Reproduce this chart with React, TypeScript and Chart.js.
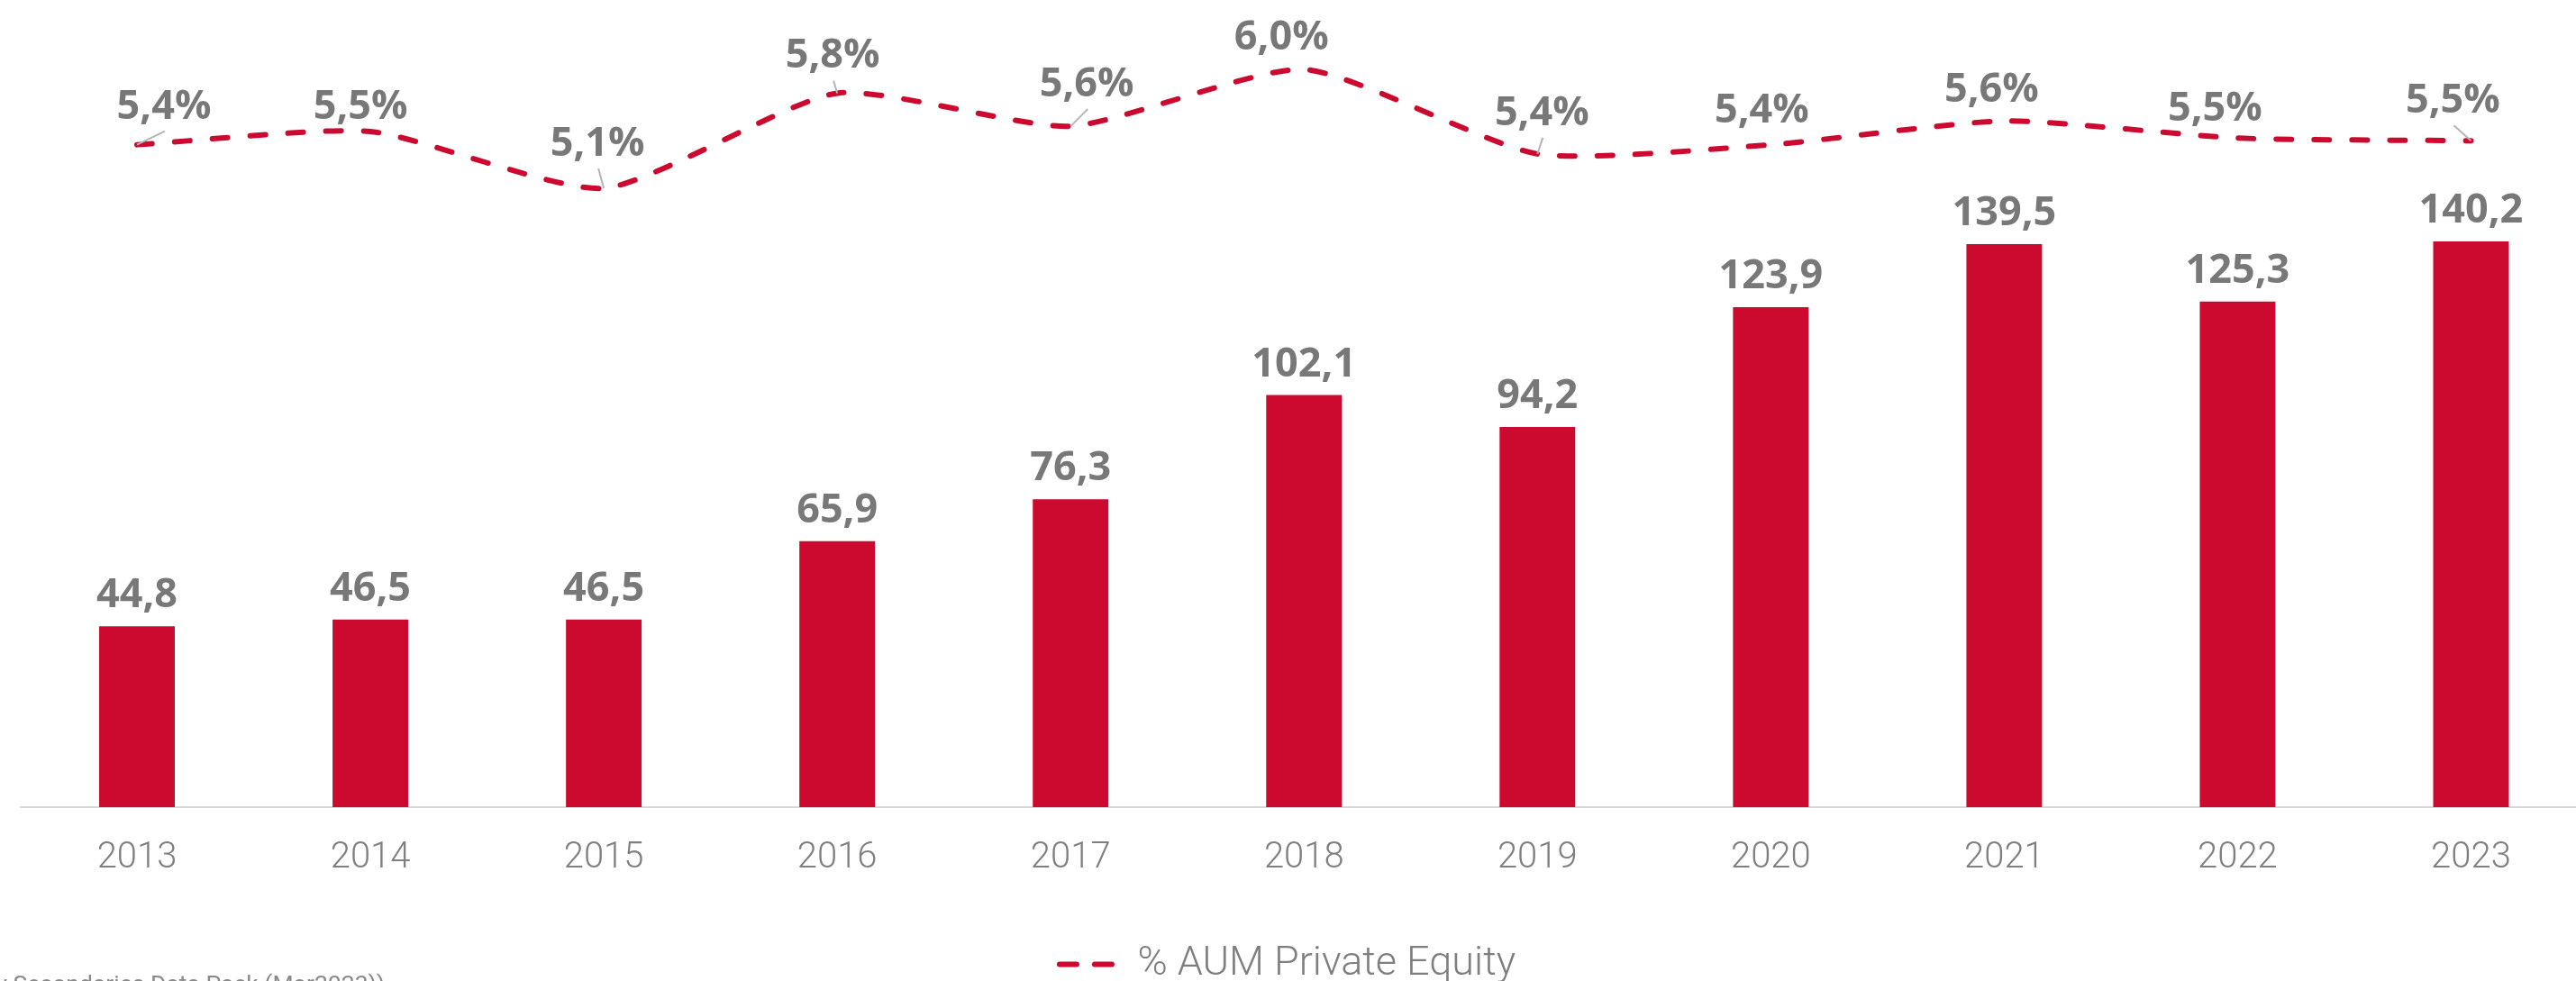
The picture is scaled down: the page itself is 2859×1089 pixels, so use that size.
import React, { useEffect, useRef } from 'react';
import { Chart, registerables } from 'chart.js';

Chart.register(...registerables);

// ---- data ----
const years = ['2013', '2014', '2015', '2016', '2017', '2018', '2019', '2020', '2021', '2022', '2023'];
const aumValues = [44.8, 46.5, 46.5, 65.9, 76.3, 102.1, 94.2, 123.9, 139.5, 125.3, 140.2];
const pctValues = [5.43, 5.53, 5.1, 5.82, 5.57, 6.0, 5.36, 5.43, 5.61, 5.48, 5.46];
const legendLabel = '% AUM Private Equity';
const sourceNote = 'y Secondaries Data Pack (Mar2023))';

// ---- label placement (styling, relative to points) ----
const pctLabelOffsets = [
  [30, -29], [-11, -14], [-7, -36], [-5, -28], [18, -33], [-25, -22],
  [5, -32], [-10, -25], [-14, -21], [-25, -19], [-20, -31],
];
const pctLeaderLines = [true, false, true, true, true, false, true, false, false, false, true];

const RED = '#cc0a30';
const LABEL_GRAY = '#787878';
const AXIS_GRAY = '#7f7f7f';

const fmt = (v: number) => (Math.round(v * 10) / 10).toFixed(1).replace('.', ',');

const labelPlugin = {
  id: 'valueLabels',
  afterDatasetsDraw(chart: any) {
    const ctx = chart.ctx as CanvasRenderingContext2D;
    ctx.save();
    // bar labels
    const barMeta = chart.getDatasetMeta(1);
    ctx.font = '700 45px "Open Sans"';
    ctx.fillStyle = LABEL_GRAY;
    ctx.textAlign = 'center';
    ctx.textBaseline = 'alphabetic';
    barMeta.data.forEach((el: any, i: number) => {
      ctx.fillText(fmt(aumValues[i]), el.x, el.y - 21);
    });
    // line labels + leaders
    const lineMeta = chart.getDatasetMeta(0);
    lineMeta.data.forEach((pt: any, i: number) => {
      const [dx, dy] = pctLabelOffsets[i];
      const lx = pt.x + dx;
      const ly = pt.y + dy;
      if (pctLeaderLines[i]) {
        ctx.strokeStyle = '#b4b4b4';
        ctx.lineWidth = 2;
        ctx.beginPath();
        ctx.moveTo(lx + 1, ly + 14);
        ctx.lineTo(pt.x, pt.y);
        ctx.stroke();
      }
      ctx.fillStyle = LABEL_GRAY;
      ctx.fillText(fmt(pctValues[i]) + '%', lx, ly);
    });
    ctx.restore();
  },
  afterDraw(chart: any) {
    const ctx = chart.ctx as CanvasRenderingContext2D;
    ctx.save();
    ctx.font = '400 26.5px Roboto';
    ctx.fillStyle = '#8a8a8a';
    ctx.textAlign = 'right';
    ctx.textBaseline = 'alphabetic';
    ctx.fillText(sourceNote, 427 + 14, 1101);
    ctx.restore();
  },
};

export default function App() {
  const ref = useRef<HTMLCanvasElement | null>(null);

  useEffect(() => {
    if (!ref.current) return;
    const chart = new Chart(ref.current, {
      type: 'bar',
      data: {
        labels: years,
        datasets: [
          {
            type: 'line',
            label: legendLabel,
            data: pctValues,
            yAxisID: 'y2',
            borderColor: RED,
            backgroundColor: RED,
            borderWidth: 6,
            borderDash: [17, 25],
            borderCapStyle: 'round',
            borderJoinStyle: 'round',
            tension: 0.2,
            pointRadius: 0,
            pointHoverRadius: 0,
            fill: false,
            order: 0,
          } as any,
          {
            type: 'bar',
            label: 'AUM',
            data: aumValues,
            yAxisID: 'y',
            backgroundColor: RED,
            borderWidth: 0,
            categoryPercentage: 1,
            barPercentage: 0.324,
            order: 1,
          } as any,
        ],
      },
      options: {
        responsive: false,
        animation: false,
        devicePixelRatio: 1,
        layout: { padding: { left: 0, right: 0, top: 0, bottom: 0 } },
        plugins: {
          tooltip: { enabled: false },
          legend: {
            display: true,
            position: 'bottom',
            align: 'center',
            labels: {
              usePointStyle: true,
              pointStyleWidth: 64,
              boxHeight: 6,
              padding: 10,
              color: AXIS_GRAY,
              font: { family: 'Roboto', size: 45, weight: '300' as any },
              generateLabels: (c: any) => {
                const items = (Chart.defaults as any).plugins.legend.labels.generateLabels(c);
                return items
                  .filter((it: any) => it.datasetIndex === 0)
                  .map((it: any) => ({
                    ...it,
                    pointStyle: 'line',
                    lineDash: [19, 20],
                    lineCap: 'round',
                    lineWidth: 6,
                    strokeStyle: RED,
                    fillStyle: RED,
                    fontColor: AXIS_GRAY,
                    rotation: 0,
                  }));
              },
            },
          },
        },
        scales: {
          x: {
            grid: { display: false, drawTicks: false },
            border: { display: true, color: '#d9d9d9', width: 2 },
            ticks: {
              color: AXIS_GRAY,
              font: { family: 'Roboto', size: 40, weight: '300' as any },
              padding: 33,
            },
            afterFit: (s: any) => {
              s.height = 142;
            },
          },
          y: {
            display: true,
            min: 0,
            max: 200,
            grid: { display: false, drawTicks: false },
            border: { display: false },
            ticks: { display: false },
            afterFit: (s: any) => {
              s.width = 36.5;
            },
          },
          y2: {
            display: false,
            position: 'right',
            min: 0.417,
            max: 6.525,
            grid: { display: false },
          },
        },
      },
      plugins: [labelPlugin],
    } as any);
    return () => chart.destroy();
  }, []);

  return (
    <div
      style={{
        position: 'fixed',
        left: 0,
        top: 0,
        width: 2859,
        height: 1089,
        overflow: 'hidden',
        background: '#ffffff',
      }}
    >
      <canvas
        ref={ref}
        width={2886}
        height={1103}
        style={{ position: 'absolute', left: -14, top: 0, width: 2886, height: 1103 }}
      />
    </div>
  );
}
